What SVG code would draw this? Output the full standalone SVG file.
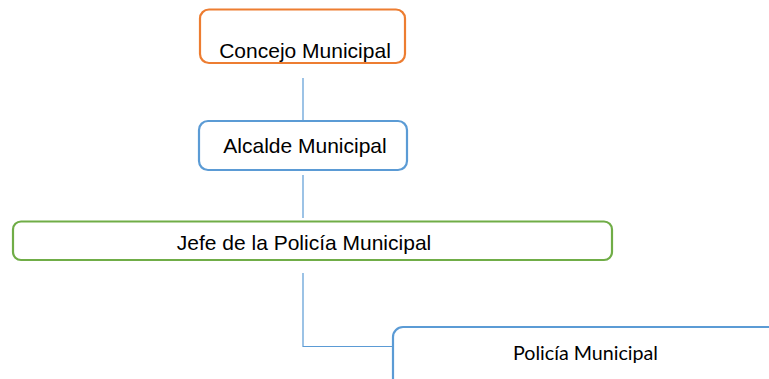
<svg xmlns="http://www.w3.org/2000/svg" width="769" height="379" viewBox="0 0 769 379">
<style>
.box{fill:#fff;stroke-width:2.2}
.t{font-family:"Liberation Sans",Arial,sans-serif;font-size:21px;fill:#000;text-anchor:middle}
.t2{font-family:Lato,"Liberation Sans",sans-serif;font-size:20px;fill:#000;text-anchor:middle}
.c{stroke:#5B9BD5;stroke-width:1.2;fill:none}
</style>
<rect width="769" height="379" fill="#fff"/>
<g id="connectors">
<line class="c" x1="303" y1="78" x2="303" y2="120"/>
<line class="c" x1="303" y1="175" x2="303" y2="218"/>
<polyline class="c" points="303,273 303,346.5 393,346.5"/>
</g>
<g id="concejo">
<rect class="box" x="200" y="9.5" width="205" height="53.5" rx="9" stroke="#ED7D31"/>
<text class="t" x="305" y="58">Concejo Municipal</text>
</g>
<g id="alcalde">
<rect class="box" x="199" y="121" width="208" height="49" rx="9" stroke="#5B9BD5"/>
<text class="t" x="305" y="153">Alcalde Municipal</text>
</g>
<g id="jefe">
<rect class="box" x="13" y="221.5" width="599" height="38.5" rx="8" stroke="#70AD47"/>
<text class="t" x="304" y="250">Jefe de la Policía Municipal</text>
</g>
<g id="policia">
<rect class="box" x="393" y="327" width="400" height="70" rx="10" stroke="#5B9BD5"/>
<text class="t2" x="585.5" y="360" textLength="145" lengthAdjust="spacingAndGlyphs">Policía Municipal</text>
</g>
</svg>
